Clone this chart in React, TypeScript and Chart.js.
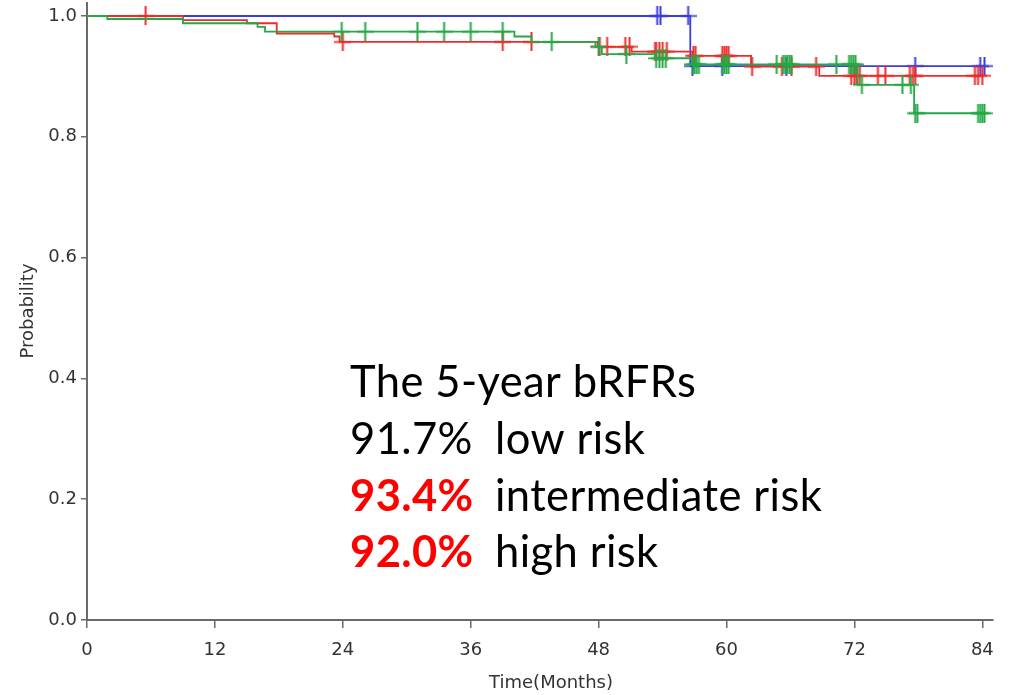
import { useEffect, useRef } from "react";
import { Chart, registerables } from "chart.js";

Chart.register(...registerables);

// Axis ticks
const xTicks = [0, 12, 24, 36, 48, 60, 72, 84];
const yTicks = [0, 0.2, 0.4, 0.6, 0.8, 1.0];

// Low risk group: event times (months) and survival after each step
const lowEventTimes = [0, 56.6];
const lowSurvival = [1.0, 0.917];
const lowCensored = [53.5, 53.8, 56.4, 56.8, 59.6, 65.6, 77.7, 83.8, 84.2];

// Intermediate risk group
const midEventTimes = [0, 9.0, 15.0, 17.8, 23.2, 23.7, 47.9, 51.1, 56.8, 62.3, 68.7];
const midSurvival = [1.0, 0.993, 0.988, 0.971, 0.966, 0.957, 0.949, 0.941, 0.934, 0.916, 0.901];
const midCensored = [
  5.5, 24.0, 39.0, 41.7, 48.1, 48.8, 50.5, 50.9, 53.3, 53.4, 53.7, 54.0, 54.4,
  56.9, 57.1, 59.6, 59.8, 60.0, 60.2, 62.4, 65.2, 66.1, 68.4, 71.7, 72.0, 72.2,
  72.5, 74.2, 74.9, 77.2, 77.5, 77.7, 83.3, 83.6, 84.0,
];

// High risk group
const highEventTimes = [0, 1.9, 9.0, 16.0, 16.7, 40.1, 41.7, 47.7, 48.3, 53.3, 56.8, 72.3, 77.6];
const highSurvival = [1.0, 0.995, 0.988, 0.982, 0.974, 0.966, 0.957, 0.949, 0.937, 0.93, 0.92, 0.886, 0.839];
const highCensored = [
  23.9, 26.1, 31.0, 33.5, 36.0, 39.0, 43.6, 48.0, 50.6, 53.4, 53.7, 54.0, 54.3,
  56.85, 57.0, 57.2, 57.4, 59.6, 59.8, 60.0, 60.2, 64.7, 65.3, 65.5, 65.7, 65.9,
  66.1, 70.3, 71.5, 71.7, 71.9, 72.1, 72.7, 76.5, 77.3, 77.7, 77.9, 83.6, 83.8,
  84.0, 84.2,
];

// Annotation text
const noteTitle = "The 5-year bRFRs";
const noteRates = ["91.7%", "93.4%", "92.0%"];
const noteGroups = ["low risk", "intermediate risk", "high risk"];
const noteHighlighted = [false, true, true];

const BLUE = "#3c3cdc";
const RED = "#ee2b2b";
const GREEN = "#25a845";
const AXIS = "#6a6a6a";
const TEXT = "#333333";

function survivalAt(times: number[], surv: number[], t: number): number {
  let s = surv[0];
  for (let i = 0; i < times.length; i++) {
    if (times[i] <= t) s = surv[i];
  }
  return s;
}

function curvePoints(times: number[], surv: number[], censored: number[]) {
  const pts = times.map((t, i) => ({ x: t, y: surv[i] }));
  const last = Math.max(...censored, times[times.length - 1]);
  pts.push({ x: last, y: surv[surv.length - 1] });
  return pts;
}

function censorPoints(times: number[], surv: number[], censored: number[]) {
  return censored.map((t) => ({ x: t, y: survivalAt(times, surv, t) }));
}

// "+" shaped censor mark
function makePlus(color: string): HTMLCanvasElement {
  const c = document.createElement("canvas");
  c.width = 17;
  c.height = 19;
  const g = c.getContext("2d")!;
  g.strokeStyle = color;
  g.lineWidth = 2;
  g.beginPath();
  g.moveTo(8.5, 0);
  g.lineTo(8.5, 19);
  g.stroke();
  g.lineWidth = 1.7;
  g.beginPath();
  g.moveTo(0, 9.5);
  g.lineTo(17, 9.5);
  g.stroke();
  return c;
}

const NOTE_FONT = "43.5px Lato";
const NOTE_BOLD = "700 43.5px Lato";

const noPadding = () => ({ left: 0, top: 0, right: 0, bottom: 0 });

const notePlugin = {
  id: "notePlugin",
  afterDraw(chart: any) {
    const ctx = chart.ctx as CanvasRenderingContext2D;
    ctx.save();
    // axis titles
    ctx.fillStyle = TEXT;
    ctx.font = "18px 'DejaVu Sans'";
    ctx.textAlign = "center";
    ctx.textBaseline = "middle";
    ctx.fillText("Time(Months)", 551, 683);
    ctx.save();
    ctx.translate(28, 311);
    ctx.rotate(-Math.PI / 2);
    ctx.fillText("Probability", 0, 0);
    ctx.restore();

    // 5-year rates
    ctx.textAlign = "left";
    ctx.textBaseline = "alphabetic";
    (ctx as any).letterSpacing = "0.4px";
    ctx.fillStyle = "#000";
    ctx.font = NOTE_FONT;
    ctx.fillText(noteTitle, 350, 397);
    const baselines = [454, 511, 567];
    noteRates.forEach((rate, i) => {
      const y = baselines[i];
      if (noteHighlighted[i]) {
        ctx.fillStyle = "#ff0000";
        ctx.font = NOTE_BOLD;
      } else {
        ctx.fillStyle = "#000";
        ctx.font = NOTE_FONT;
      }
      ctx.fillText(rate, 350, y);
      ctx.fillStyle = "#000";
      ctx.font = NOTE_FONT;
      ctx.fillText(noteGroups[i], 495, y);
    });
    ctx.restore();
  },
};

export default function App() {
  const ref = useRef<HTMLCanvasElement>(null);

  useEffect(() => {
    const canvas = ref.current;
    if (!canvas) return;

    const groups = [
      { times: highEventTimes, surv: highSurvival, cens: highCensored, color: GREEN, order: 0 },
      { times: midEventTimes, surv: midSurvival, cens: midCensored, color: RED, order: 1 },
      { times: lowEventTimes, surv: lowSurvival, cens: lowCensored, color: BLUE, order: 2 },
    ];

    const datasets: any[] = [];
    groups.forEach((g) => {
      datasets.push({
        type: "line",
        data: curvePoints(g.times, g.surv, g.cens),
        borderColor: g.color,
        borderWidth: 1.8,
        stepped: "before",
        pointRadius: 0,
        fill: false,
        order: g.order,
      });
      datasets.push({
        type: "scatter",
        data: censorPoints(g.times, g.surv, g.cens),
        showLine: false,
        pointStyle: makePlus(g.color),
        pointRadius: 9,
        order: g.order,
      });
    });

    const tickFont = { family: "'DejaVu Sans'", size: 18 };

    const chart = new Chart(canvas, {
      type: "line",
      data: { datasets },
      options: {
        animation: false,
        responsive: false,
        devicePixelRatio: 1,
        events: [],
        layout: { autoPadding: false, padding: { left: 0, top: 3, right: 17, bottom: 0 } },
        plugins: { legend: { display: false }, tooltip: { enabled: false } },
        scales: {
          x: {
            type: "linear",
            min: 0,
            max: 85,
            afterBuildTicks: (s: any) => {
              s.ticks = xTicks.map((v) => ({ value: v }));
            },
            afterFit: (s: any) => {
              s.height = 75;
              s.paddingLeft = 0;
              s.paddingRight = 0;
              s.getPadding = noPadding;
            },
            grid: {
              display: true,
              drawOnChartArea: false,
              drawTicks: true,
              tickLength: 8,
              color: AXIS,
              lineWidth: 1.5,
            },
            border: { display: true, color: AXIS, width: 2 },
            ticks: {
              font: tickFont,
              color: TEXT,
              padding: 12,
              maxRotation: 0,
              autoSkip: false,
              callback: (v: any) => String(v),
            },
          },
          y: {
            type: "linear",
            min: 0,
            max: 1.0215,
            afterBuildTicks: (s: any) => {
              s.ticks = yTicks.map((v) => ({ value: v }));
            },
            afterFit: (s: any) => {
              s.width = 87;
              s.paddingTop = 0;
              s.paddingBottom = 0;
              s.getPadding = noPadding;
            },
            grid: {
              display: true,
              drawOnChartArea: false,
              drawTicks: true,
              tickLength: 6,
              color: AXIS,
              lineWidth: 1.5,
            },
            border: { display: true, color: AXIS, width: 2 },
            ticks: {
              font: tickFont,
              color: TEXT,
              padding: 4,
              autoSkip: false,
              callback: (v: any) => Number(v).toFixed(1),
            },
          },
        },
      },
      plugins: [notePlugin],
    } as any);

    return () => chart.destroy();
  }, []);

  return (
    <div style={{ position: "absolute", left: 0, top: 0, width: 1010, height: 695, background: "#fff" }}>
      <canvas ref={ref} width={1010} height={695} style={{ display: "block", width: 1010, height: 695 }} />
    </div>
  );
}
